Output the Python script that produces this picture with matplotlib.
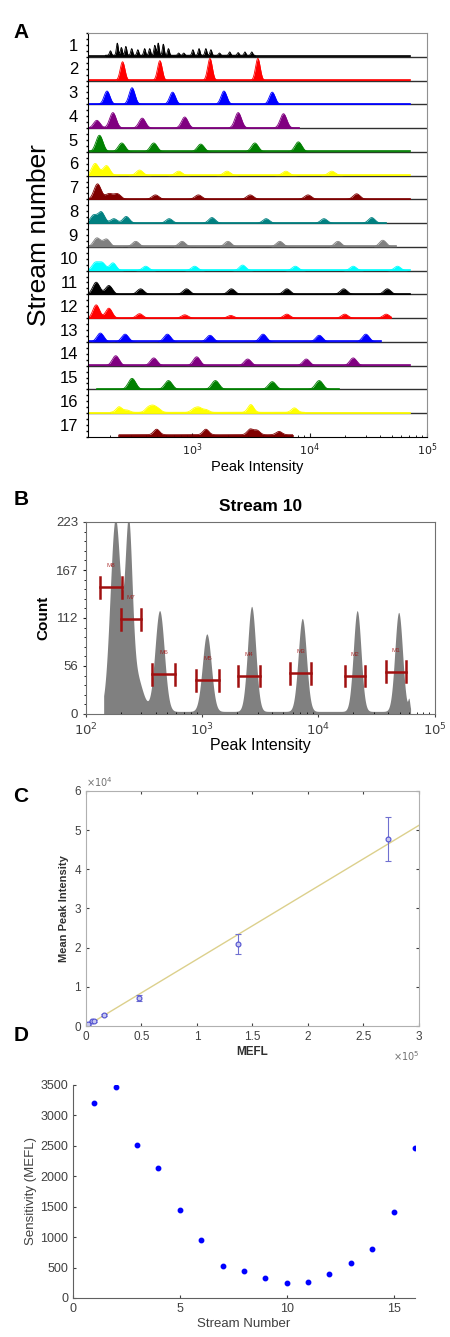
import numpy as np
import matplotlib.pyplot as plt

plt.rcParams['font.family'] = ['Liberation Sans', 'DejaVu Sans']

# ---------------- Panel A: peak intensity histograms for 17 streams ----------------
stream_labels = [str(i) for i in range(1, 18)]
stream_colors = ['#000000', '#ff0000', '#0000ff', '#800080', '#008000', '#ffff00',
                 '#800000', '#008080', '#808080', '#00ffff', '#000000', '#ff0000',
                 '#0000ff', '#800080', '#008000', '#ffff00', '#800000']

# peak positions (peak intensity) and relative heights for each stream
stream_peak_pos = [
    [201, 230, 249, 272, 305, 344, 393, 434, 480, 513, 567, 627, 766, 847, 1013,
     1143, 1306, 1443, 1706, 2084, 2462, 2812, 3214],
    [255, 530, 1416, 3622],
    [188, 307, 680, 1862, 4800],
    [154, 211, 375, 863, 2462, 5985],
    [162, 251, 470, 1181, 3413, 8017],
    [149, 186, 356, 766, 1977, 6266, 15420],
    [156, 195, 230, 486, 1128, 3112, 9680, 25130],
    [144, 168, 215, 274, 636, 1472, 4256, 13240, 33760],
    [154, 186, 330, 818, 2015, 5560, 17420, 41980],
    [149, 171, 211, 401, 1048, 2685, 7550, 23500, 55980],
    [152, 195, 363, 893, 2155, 6395, 19500, 45800],
    [152, 195, 356, 863, 2127, 6395, 19910, 44870],
    [165, 268, 614, 1416, 4010, 12060, 30080],
    [223, 470, 1091, 2966, 9360, 23500],
    [307, 627, 1574, 4800, 12060],
    [238, 277, 420, 464, 513, 1033, 1143, 1306, 3155, 7413],
    [497, 1306, 3112, 3556, 5485],
]
stream_peak_height = [
    [0.2, 0.55, 0.35, 0.4, 0.3, 0.25, 0.3, 0.3, 0.45, 0.55, 0.5, 0.3, 0.1, 0.1, 0.25,
     0.3, 0.3, 0.25, 0.1, 0.15, 0.12, 0.15, 0.15],
    [0.85, 0.9, 1.0, 1.0],
    [0.6, 0.75, 0.55, 0.6, 0.55],
    [0.35, 0.7, 0.45, 0.5, 0.7, 0.65],
    [0.75, 0.4, 0.4, 0.35, 0.4, 0.45],
    [0.55, 0.45, 0.25, 0.2, 0.2, 0.2, 0.2],
    [0.7, 0.25, 0.25, 0.2, 0.2, 0.2, 0.2, 0.25],
    [0.35, 0.5, 0.2, 0.3, 0.2, 0.25, 0.2, 0.2, 0.25],
    [0.4, 0.35, 0.25, 0.25, 0.25, 0.25, 0.25, 0.3],
    [0.35, 0.35, 0.35, 0.2, 0.2, 0.25, 0.2, 0.2, 0.2],
    [0.55, 0.4, 0.25, 0.25, 0.25, 0.25, 0.25, 0.25],
    [0.6, 0.45, 0.2, 0.15, 0.12, 0.18, 0.18, 0.18],
    [0.4, 0.35, 0.35, 0.3, 0.35, 0.3, 0.35],
    [0.45, 0.35, 0.4, 0.3, 0.3, 0.35],
    [0.5, 0.4, 0.4, 0.35, 0.4],
    [0.25, 0.1, 0.2, 0.25, 0.15, 0.15, 0.2, 0.12, 0.35, 0.2],
    [0.25, 0.25, 0.25, 0.2, 0.15],
]
stream_peak_width = [0.008, 0.02, 0.025, 0.028, 0.03, 0.03, 0.03, 0.028, 0.03,
                     0.028, 0.03, 0.028, 0.03, 0.03, 0.032, 0.025, 0.025]
# extent of each trace (low, high peak intensity)
stream_span = [(130, 71600), (130, 71600), (130, 71600), (130, 8185), (130, 71600),
               (130, 71600), (130, 71600), (130, 44870), (130, 54800), (130, 71600),
               (130, 71600), (130, 49650), (130, 40620), (130, 71600), (154, 17620),
               (130, 71600), (238, 7165)]
# low background plateau (low, high, level) for the noisy streams
stream_floor = {0: (182, 3436, 0.07), 15: (201, 9060, 0.04), 16: (238, 7165, 0.1)}

# ---------------- Panel B: stream 10 histogram ----------------
b_peak_pos = [179, 232, 263, 430, 1096, 2661, 7261, 21530, 48980, 60000]
b_peak_count = [223, 186, 45, 117, 90, 122, 108, 117, 115, 12]
b_peak_width = [0.045, 0.03, 0.06, 0.04, 0.038, 0.035, 0.035, 0.033, 0.033, 0.008]
b_span = (142, 62000)
b_gate_names = ['M8', 'M7', 'M6', 'M5', 'M4', 'M3', 'M2', 'M1']
b_gate_lo = [131, 201, 370, 887, 2014, 5715, 16870, 38370]
b_gate_hi = [204, 296, 589, 1396, 3170, 8650, 25180, 56890]
b_gate_count = [147, 110, 46, 39, 44, 47, 44, 49]

# ---------------- Panel C: calibration ----------------
c_mefl = [600, 1800, 5200, 7000, 16500, 47500, 137000, 272000]
c_mean = [350, 450, 1200, 1300, 2750, 7200, 21000, 47800]
c_err = [100, 100, 150, 150, 200, 700, 2500, 5600]
c_fit_slope = 0.171
c_fit_icpt = -70
c_xticks = [0, 0.5e5, 1e5, 1.5e5, 2e5, 2.5e5, 3e5]
c_xticklabels = ['0', '0.5', '1', '1.5', '2', '2.5', '3']
c_yticks = [0, 1e4, 2e4, 3e4, 4e4, 5e4, 6e4]
c_yticklabels = ['0', '1', '2', '3', '4', '5', '6']

# ---------------- Panel D: sensitivity per stream ----------------
d_stream = list(range(1, 17))
d_sensitivity = [3210, 3470, 2510, 2130, 1440, 960, 530, 440, 320, 250, 270, 390,
                 570, 800, 1410, 2460]

grey_txt = '#404040'
fig = plt.figure(figsize=(4.5, 13.37), dpi=100)

# ---- A ----
axA = fig.add_axes([0.196, 0.6732, 0.753, 0.3021])
n = len(stream_labels)
for i in range(n):
    base = n - 1 - i
    lo, hi = stream_span[i]
    lx = np.linspace(np.log10(lo), np.log10(hi), 1500)
    y = np.zeros_like(lx)
    if i in stream_floor:
        f0, f1, lev = stream_floor[i]
        y += np.where((lx >= np.log10(f0)) & (lx <= np.log10(f1)), lev, 0)
    for p, h in zip(stream_peak_pos[i], stream_peak_height[i]):
        y += h * np.exp(-0.5 * ((lx - np.log10(p)) / stream_peak_width[i]) ** 2)
    y = np.clip(y, 0, 1) * 0.93
    axA.fill_between(10 ** lx, base, base + y, color=stream_colors[i], lw=0)
    axA.plot(10 ** lx, base + y, color=stream_colors[i], lw=0.6)
    axA.plot([lo, hi], [base + 0.02, base + 0.02], color=stream_colors[i], lw=1.2)
    if i < n - 1:
        axA.axhline(base, color='#303030', lw=1.0, zorder=0)
    axA.text(-0.03, base + 0.45, stream_labels[i], transform=axA.get_yaxis_transform(),
             fontsize=12, ha='right', va='center')
axA.set_xscale('log')
axA.set_xlim(130, 1e5)
axA.set_ylim(0, n)
axA.set_xticks([1e3, 1e4, 1e5])
axA.set_xticklabels([r'$10^3$', r'$10^4$', r'$10^5$'])
axA.tick_params(axis='x', labelsize=8, direction='in', length=3, colors='#202020')
axA.tick_params(axis='x', which='minor', direction='in', length=1.5)
axA.set_yticks([])
axA.set_yticks(np.arange(0, n + 0.01, 0.25), minor=True)
axA.tick_params(axis='y', which='minor', direction='out', length=1.5, width=1)
axA.yaxis.set_ticklabels([], minor=True)
for s in ['top', 'right']:
    axA.spines[s].set_color('#909090')
axA.set_xlabel('Peak Intensity', fontsize=10.5, labelpad=1)
axA.set_ylabel('Stream number', fontsize=19, labelpad=22)
fig.text(0.03, 0.976, 'A', fontsize=15, fontweight='bold', va='center')

# ---- B ----
axB = fig.add_axes([0.191, 0.466, 0.775, 0.1436])
lx = np.linspace(np.log10(b_span[0]), np.log10(b_span[1]), 2000)
yb = np.full_like(lx, 3.0)
for p, h, w in zip(b_peak_pos, b_peak_count, b_peak_width):
    yb += h * np.exp(-0.5 * ((lx - np.log10(p)) / w) ** 2)
axB.fill_between(10 ** lx, 0, yb, color='#808080', lw=0)
gate_col = '#a01010'
for name, lo, hi, c in zip(b_gate_names, b_gate_lo, b_gate_hi, b_gate_count):
    axB.plot([lo, hi], [c, c], color=gate_col, lw=1.8)
    axB.plot([lo, lo], [c - 12, c + 12], color=gate_col, lw=1.8)
    axB.plot([hi, hi], [c - 12, c + 12], color=gate_col, lw=1.8)
    axB.text(np.sqrt(lo * hi), c + 25, name, color=gate_col, fontsize=4.5,
             ha='center', va='center', alpha=0.8)
axB.set_xscale('log')
axB.set_xlim(100, 1e5)
axB.set_ylim(0, 223)
axB.set_yticks([0, 56, 112, 167, 223])
axB.set_xticks([1e2, 1e3, 1e4, 1e5])
axB.set_xticklabels([r'$10^2$', r'$10^3$', r'$10^4$', r'$10^5$'])
axB.tick_params(axis='both', labelsize=9.5, colors=grey_txt, direction='out', length=2)
axB.tick_params(axis='x', which='minor', direction='in', length=1.5)
axB.set_yticks(np.arange(0, 224, 11.15), minor=True)
axB.tick_params(axis='y', which='minor', direction='out', length=1.5)
for s in axB.spines.values():
    s.set_color('#707070')
axB.set_title('Stream 10', fontsize=12.5, fontweight='bold', pad=8)
axB.set_ylabel('Count', fontsize=11, fontweight='bold', labelpad=4)
axB.set_xlabel('Peak Intensity', fontsize=11.5, labelpad=0)
fig.text(0.03, 0.6265, 'B', fontsize=15, fontweight='bold', va='center')

# ---- C ----
axC = fig.add_axes([0.191, 0.2326, 0.74, 0.1758])
xs = np.array([0, 3e5])
axC.plot(xs, c_fit_slope * xs + c_fit_icpt, color='#dcd08c', lw=1.0, zorder=1)
axC.errorbar(c_mefl, c_mean, yerr=c_err, fmt='o', ms=3.5, mfc='#c8c8f0', mec='#5050d0',
             mew=0.8, ecolor='#7070d0', elinewidth=0.8, capsize=2, zorder=2)
axC.set_xlim(0, 3e5)
axC.set_ylim(0, 6e4)
axC.set_xticks(c_xticks)
axC.set_xticklabels(c_xticklabels)
axC.set_yticks(c_yticks)
axC.set_yticklabels(c_yticklabels)
axC.tick_params(axis='both', labelsize=8.5, colors=grey_txt, direction='in', length=2,
                top=True, right=True)
axC.text(0.0, 1.01, r'$\times10^4$', transform=axC.transAxes, fontsize=7,
         color='#707070', ha='left', va='bottom')
axC.text(1.0, -0.1, r'$\times10^5$', transform=axC.transAxes, fontsize=7,
         color='#707070', ha='right', va='top')
for s in axC.spines.values():
    s.set_color('#b0b0b0')
axC.set_xlabel('MEFL', fontsize=8.5, fontweight='bold', color='#303030', labelpad=2)
axC.set_ylabel('Mean Peak Intensity', fontsize=8, fontweight='bold', color='#303030',
               labelpad=4)
fig.text(0.03, 0.4045, 'C', fontsize=15, fontweight='bold', va='center')

# ---- D ----
axD = fig.add_axes([0.162, 0.0292, 0.76, 0.1593])
axD.plot(d_stream, d_sensitivity, 'o', color='#0000ff', ms=3.2)
axD.set_xlim(0, 16)
axD.set_ylim(0, 3500)
axD.set_xticks([0, 5, 10, 15])
axD.set_yticks(np.arange(0, 3501, 500))
axD.tick_params(axis='both', labelsize=9, colors=grey_txt, direction='in', length=2)
for s in ['top', 'right']:
    axD.spines[s].set_visible(False)
for s in ['left', 'bottom']:
    axD.spines[s].set_color('#606060')
axD.set_xlabel('Stream Number', fontsize=9.5, color=grey_txt, labelpad=2)
axD.set_ylabel('Sensitivity (MEFL)', fontsize=9.5, color=grey_txt, labelpad=2)
fig.text(0.03, 0.2255, 'D', fontsize=15, fontweight='bold', va='center')

fig.savefig('out.png', dpi=100, facecolor='white')
